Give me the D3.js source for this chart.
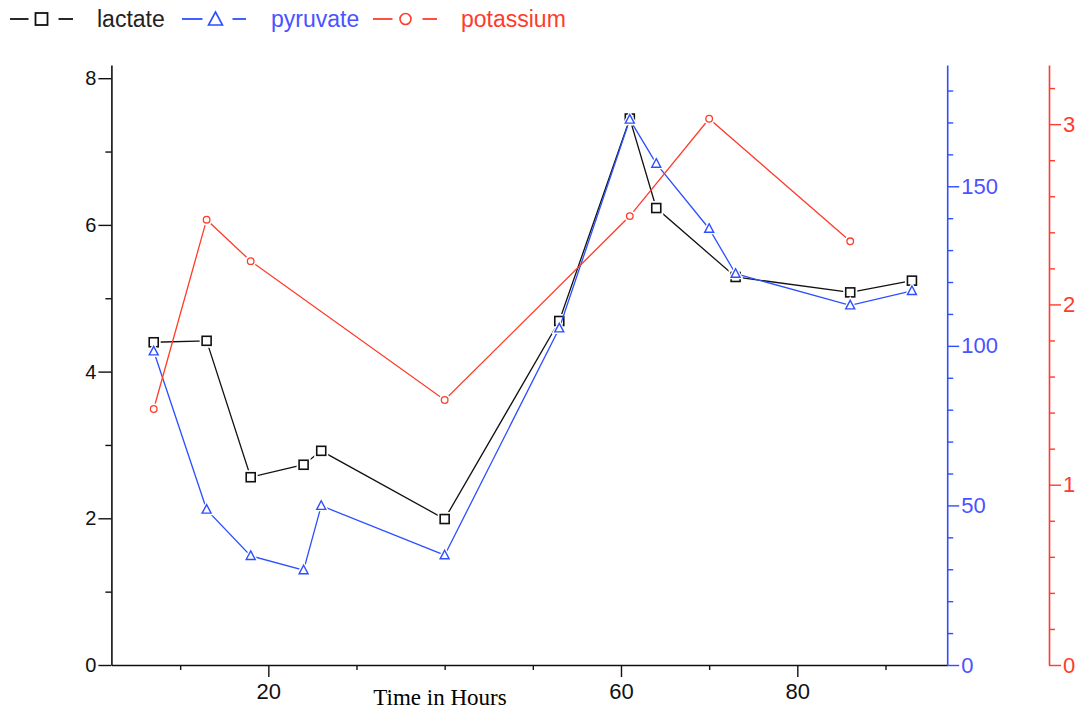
<!DOCTYPE html>
<html>
<head>
<meta charset="utf-8">
<script src="https://cdn.jsdelivr.net/npm/d3@7/dist/d3.min.js"></script>
<style>
  html, body { margin: 0; padding: 0; background: #fff; }
  svg { display: block; }
  text { font-family: "Liberation Sans", Arial, sans-serif; }
</style>
</head>
<body>
<svg id="chart" width="1078" height="709"></svg>
<script>
// Sampling times (hours)
const lactateHours   = [7, 13, 18, 24, 26, 40, 53, 61, 64, 73, 86, 93];
const lactateValues  = [4.40, 4.42, 2.56, 2.73, 2.92, 1.99, 4.69, 7.45, 6.23, 5.29, 5.08, 5.24];

const pyruvateHours  = [7, 13, 18, 24, 26, 40, 53, 61, 64, 70, 73, 86, 93];
const pyruvateValues = [98.3, 48.7, 34.2, 29.7, 49.9, 34.4, 105.5, 170.9, 157.1, 136.7, 122.6, 112.7, 117.2];

const potassiumHours  = [7, 13, 18, 40, 61, 70, 86];
const potassiumValues = [1.42, 2.47, 2.24, 1.47, 2.49, 3.03, 2.35];

const xMajorTicks = [20, 60, 80];
const xMinorTicks = [10, 30, 40, 50, 70, 90];
const lactateTicks  = [0, 2, 4, 6, 8];
const pyruvateTicks = [0, 50, 100, 150];
const potassiumTicks = [0, 1, 2, 3];

const legendLabels = ["lactate", "pyruvate", "potassium"];
const xTitle = "Time in Hours";

const BLACK = "#111";
const BLUE = "#2d4fff";
const BLUE_TEXT = "#4b52ff";
const RED = "#ff3b2b";

const svg = d3.select("#chart");

const x = d3.scaleLinear().domain([2.2, 97]).range([111.4, 947.2]);
const yL = d3.scaleLinear().domain([0, 8.18]).range([665, 65]);
const yB = d3.scaleLinear().domain([0, 188]).range([665, 65]);
const yR = d3.scaleLinear().domain([0, 3.328]).range([665, 65]);

const xLeft = x.range()[0], xRight = x.range()[1];
const redX = 1049;
const intFmt = d3.format("d");

// ---- axes ----
function styleAxis(g, color, fontSize) {
  g.select(".domain").attr("stroke", color).attr("stroke-width", 1.6);
  g.selectAll(".tick line").attr("stroke", color).attr("stroke-width", 1.4);
  g.selectAll(".tick text").attr("fill", color)
    .style("font-size", fontSize + "px")
    .style("font-family", "'Liberation Sans', Arial, sans-serif");
}

// bottom axis: minor ticks, then labelled major ticks
svg.append("g").attr("transform", `translate(0,665)`)
  .call(d3.axisBottom(x).tickValues(xMinorTicks).tickSize(5).tickFormat("").tickSizeOuter(0))
  .call(g => styleAxis(g, BLACK, 22))
  .call(g => g.select(".domain").remove());
svg.append("g").attr("transform", `translate(0,665)`)
  .call(d3.axisBottom(x).tickValues(xMajorTicks).tickSize(12).tickPadding(6).tickFormat(intFmt).tickSizeOuter(0))
  .call(g => styleAxis(g, BLACK, 22));

// left axis (lactate)
const leftMinor = d3.range(1, 8, 2);
svg.append("g").attr("transform", `translate(${xLeft},0)`)
  .call(d3.axisLeft(yL).tickValues(leftMinor).tickSize(6).tickFormat("").tickSizeOuter(0))
  .call(g => styleAxis(g, BLACK, 20));
svg.append("g").attr("transform", `translate(${xLeft},0)`)
  .call(d3.axisLeft(yL).tickValues(lactateTicks).tickSize(13).tickPadding(2).tickFormat(intFmt).tickSizeOuter(0))
  .call(g => styleAxis(g, BLACK, 20))
  .call(g => g.select(".domain").remove());

// first right axis (pyruvate)
const blueMinor = d3.range(10, 190, 10).filter(v => v % 50 !== 0);
svg.append("g").attr("transform", `translate(${xRight},0)`)
  .call(d3.axisRight(yB).tickValues(blueMinor).tickSize(6).tickFormat("").tickSizeOuter(0))
  .call(g => styleAxis(g, BLUE, 22));
svg.append("g").attr("transform", `translate(${xRight},0)`)
  .call(d3.axisRight(yB).tickValues(pyruvateTicks).tickSize(12).tickPadding(2).tickFormat(intFmt).tickSizeOuter(0))
  .call(g => styleAxis(g, BLUE, 22))
  .call(g => g.selectAll(".tick text").attr("fill", BLUE_TEXT))
  .call(g => g.select(".domain").remove());

// second right axis (potassium)
const redMinor = d3.range(1, 17).map(i => +(i * 0.2).toFixed(1)).filter(v => Math.abs(v - Math.round(v)) > 1e-6);
svg.append("g").attr("transform", `translate(${redX},0)`)
  .call(d3.axisRight(yR).tickValues(redMinor).tickSize(6).tickFormat("").tickSizeOuter(0))
  .call(g => styleAxis(g, RED, 22));
svg.append("g").attr("transform", `translate(${redX},0)`)
  .call(d3.axisRight(yR).tickValues(potassiumTicks).tickSize(12).tickPadding(2).tickFormat(intFmt).tickSizeOuter(0))
  .call(g => styleAxis(g, RED, 22))
  .call(g => g.select(".domain").remove());

// x title
svg.append("text")
  .attr("x", 440).attr("y", 705)
  .attr("text-anchor", "middle")
  .style("font-family", "'Liberation Serif', 'Times New Roman', serif")
  .style("font-size", "23px")
  .attr("fill", "#000")
  .text(xTitle);

// ---- marker shapes ----
function drawMarker(g, shape, cx, cy, color, halo) {
  if (shape === "square") {
    const s = 9;
    g.append("rect").attr("x", cx - s / 2).attr("y", cy - s / 2).attr("width", s).attr("height", s)
      .attr("fill", "#fff").attr("stroke", halo ? "#fff" : color)
      .attr("stroke-width", halo ? 5 : 1.6);
  } else if (shape === "triangle") {
    const s = 9;
    const pts = [[cx, cy - s * 0.55], [cx + s / 2, cy + s * 0.4], [cx - s / 2, cy + s * 0.4]];
    g.append("polygon").attr("points", pts.map(p => p.join(",")).join(" "))
      .attr("fill", halo ? "none" : "#fff").attr("stroke", halo ? "#fff" : color)
      .attr("stroke-width", halo ? 4 : 1.4).attr("stroke-linejoin", "miter");
  } else {
    g.append("circle").attr("cx", cx).attr("cy", cy).attr("r", 3.3)
      .attr("fill", "#fff").attr("stroke", halo ? "#fff" : color)
      .attr("stroke-width", halo ? 5 : 1.3);
  }
}

function drawSeries(hours, values, yScale, color, shape) {
  const g = svg.append("g");
  const pts = hours.map((h, i) => [x(h), yScale(values[i])]);
  g.append("path")
    .attr("d", d3.line()(pts))
    .attr("fill", "none").attr("stroke", color).attr("stroke-width", 1.3);
  pts.forEach(p => drawMarker(g, shape, p[0], p[1], color, true));
  pts.forEach(p => drawMarker(g, shape, p[0], p[1], color, false));
}

drawSeries(lactateHours, lactateValues, yL, BLACK, "square");
drawSeries(pyruvateHours, pyruvateValues, yB, BLUE, "triangle");
drawSeries(potassiumHours, potassiumValues, yR, RED, "circle");

// ---- legend ----
const legendItems = [
  { label: legendLabels[0], color: BLACK, text: "#222", shape: "square",   x0: 10,  cx: 41.5,  x1: 73,  tx: 97 },
  { label: legendLabels[1], color: BLUE,  text: BLUE_TEXT, shape: "triangle", x0: 182, cx: 215.5, x1: 246, tx: 271 },
  { label: legendLabels[2], color: RED,   text: RED,  shape: "circle",   x0: 373, cx: 405.5, x1: 437, tx: 461 }
];
const ly = 19;
const lg = svg.append("g");
legendItems.forEach(it => {
  lg.append("line").attr("x1", it.x0).attr("x2", it.cx - 13).attr("y1", ly).attr("y2", ly)
    .attr("stroke", it.color).attr("stroke-width", 1.8);
  lg.append("line").attr("x1", it.cx + 17).attr("x2", it.x1).attr("y1", ly).attr("y2", ly)
    .attr("stroke", it.color).attr("stroke-width", 1.8);
  if (it.shape === "square") {
    lg.append("rect").attr("x", it.cx - 6).attr("y", ly - 6).attr("width", 12).attr("height", 12)
      .attr("fill", "#fff").attr("stroke", it.color).attr("stroke-width", 1.8);
  } else if (it.shape === "triangle") {
    lg.append("polygon")
      .attr("points", [[it.cx, ly - 7], [it.cx + 7, ly + 6], [it.cx - 7, ly + 6]].map(p => p.join(",")).join(" "))
      .attr("fill", "#fff").attr("stroke", it.color).attr("stroke-width", 1.6);
  } else {
    lg.append("circle").attr("cx", it.cx).attr("cy", ly).attr("r", 5.5)
      .attr("fill", "#fff").attr("stroke", it.color).attr("stroke-width", 1.6);
  }
  lg.append("text").attr("x", it.tx).attr("y", ly + 8)
    .style("font-size", "23px").attr("fill", it.text).text(it.label);
});
</script>
</body>
</html>
